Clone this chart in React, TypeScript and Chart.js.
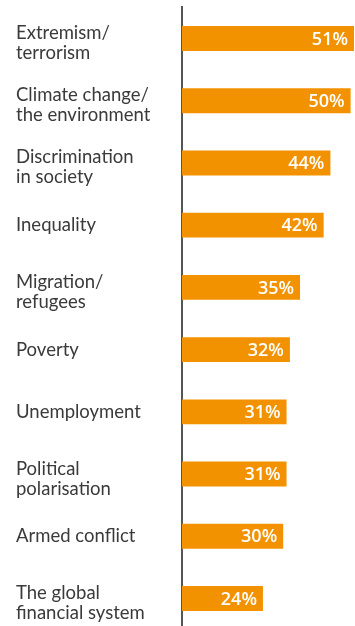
import React, { useEffect, useRef } from "react";
import { Chart, registerables } from "chart.js";

Chart.register(...registerables);

const categories: (string | string[])[] = [
  ["Extremism/", "terrorism"],
  ["Climate change/", "the environment"],
  ["Discrimination", "in society"],
  "Inequality",
  ["Migration/", "refugees"],
  "Poverty",
  "Unemployment",
  ["Political", "polarisation"],
  "Armed conflict",
  ["The global", "financial system"],
];

const values: number[] = [51, 50, 44, 42, 35, 32, 31, 31, 30, 24];

const valueLabels: string[] = values.map((v) => `${v}%`);

const BAR_COLOR = "#F39200";
const TEXT_COLOR = "#3a3a3a";
const LABEL_FONT = "400 18.5px Lato";
const LINE_HEIGHT = 20;
const MULTI_SHIFT = 4.5;

const categoryLabelPlugin = {
  id: "categoryLabels",
  afterDraw(chart: any) {
    const { ctx } = chart;
    const scale = chart.scales.y;
    ctx.save();
    ctx.font = LABEL_FONT;
    ctx.fillStyle = TEXT_COLOR;
    ctx.textAlign = "left";
    ctx.textBaseline = "middle";
    categories.forEach((label, i) => {
      const lines = Array.isArray(label) ? label : [label];
      const pixel = scale.getPixelForTick(i);
      const n = lines.length;
      const shift = n > 1 ? MULTI_SHIFT : 0;
      lines.forEach((line, j) => {
        const y = pixel + (j - (n - 1) / 2) * LINE_HEIGHT + shift;
        ctx.fillText(line, scale.left, y);
      });
    });
    ctx.restore();
  },
};

const valueLabelPlugin = {
  id: "valueLabels",
  afterDatasetsDraw(chart: any) {
    const { ctx } = chart;
    const meta = chart.getDatasetMeta(0);
    ctx.save();
    ctx.font = "600 18px 'Open Sans'";
    ctx.fillStyle = "#ffffff";
    ctx.textAlign = "right";
    ctx.textBaseline = "middle";
    meta.data.forEach((bar: any, i: number) => {
      ctx.fillText(valueLabels[i], bar.x - 6, bar.y + 1);
    });
    ctx.restore();
  },
};

export default function App() {
  const canvasRef = useRef<HTMLCanvasElement | null>(null);

  useEffect(() => {
    if (!canvasRef.current) return;
    const chart = new Chart(canvasRef.current, {
      type: "bar",
      data: {
        labels: categories,
        datasets: [
          {
            data: values,
            backgroundColor: BAR_COLOR,
            borderWidth: 0,
            categoryPercentage: 1,
            barPercentage: 0.4,
          },
        ],
      },
      options: {
        indexAxis: "y",
        responsive: false,
        animation: false,
        devicePixelRatio: 1,
        layout: { padding: { left: 16, right: 1, top: 7.4, bottom: 0.4 } },
        plugins: {
          legend: { display: false },
          tooltip: { enabled: false },
          title: { display: false },
        },
        scales: {
          x: {
            display: false,
            min: 0,
            max: 51,
          },
          y: {
            z: 1,
            grid: { display: false, drawTicks: false },
            border: { display: true, color: "#555555", width: 2 },
            ticks: { display: false },
            afterFit(scale: any) {
              scale.width = 166;
              scale.paddingTop = 0;
              scale.paddingBottom = 0;
            },
          },
        },
      },
      plugins: [valueLabelPlugin, categoryLabelPlugin],
    });
    return () => chart.destroy();
  }, []);

  return (
    <div
      style={{
        position: "fixed",
        left: 0,
        top: 0,
        width: 355,
        height: 626,
        overflow: "hidden",
        background: "#ffffff",
      }}
    >
      <canvas ref={canvasRef} width={355} height={630} style={{ display: "block" }} />
    </div>
  );
}
